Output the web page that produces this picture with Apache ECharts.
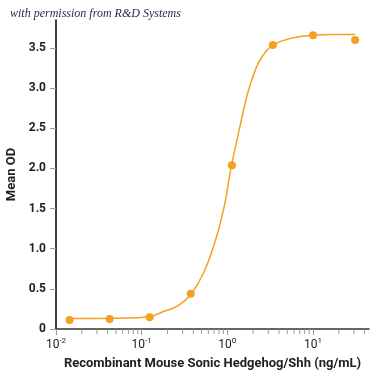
<!DOCTYPE html>
<html>
<head>
<meta charset="utf-8">
<script src="https://cdn.jsdelivr.net/npm/echarts@6/dist/echarts.min.js"></script>
<style>
html,body{margin:0;padding:0;background:#fff;}
#chart{width:375px;height:375px;}
</style>
</head>
<body>
<div id="chart"></div>
<script>
// Measured points (ng/mL, Mean OD)
const concentrations = [0.0144, 0.0423, 0.124, 0.374, 1.13, 3.40, 10.0, 31.0];
const meanOD = [0.112, 0.125, 0.146, 0.44, 2.04, 3.54, 3.66, 3.60];
// Fitted curve
const curveX = [0.0144, 0.0423, 0.124, 0.177, 0.255, 0.374, 0.546, 0.748, 0.935, 1.09, 1.374, 1.68, 1.92, 2.29, 2.87, 3.38, 4.11, 5.89, 10.1, 17.3, 31.0];
const curveY = [0.13, 0.133, 0.153, 0.215, 0.278, 0.43, 0.735, 1.15, 1.565, 1.98, 2.48, 2.89, 3.10, 3.31, 3.47, 3.535, 3.58, 3.63, 3.66, 3.67, 3.67];
// Axis ticks
const yTicks = [0, 0.5, 1, 1.5, 2, 2.5, 3, 3.5];
const yTickLabels = ['0', '0.5', '1.0', '1.5', '2.0', '2.5', '3.0', '3.5'];
const xMajor = [0.01, 0.1, 1, 10];
const xMajorExp = ['-2', '-1', '0', '1'];
const xMinor = [0.02, 0.03, 0.04, 0.05, 0.06, 0.07, 0.08, 0.09,
                0.2, 0.3, 0.4, 0.5, 0.6, 0.7, 0.8, 0.9,
                2, 3, 4, 5, 6, 7, 8, 9,
                20, 30, 40];

const orange = '#F4A020';
const font = 'Roboto, "Liberation Sans", sans-serif';

const chart = echarts.init(document.getElementById('chart'), null, {renderer: 'canvas'});
chart.setOption({
  animation: false,
  backgroundColor: '#fff',
  grid: {left: 56, right: 6, top: 20, bottom: 46, containLabel: false, outerBoundsMode: 'none'},
  graphic: [{
    type: 'text', left: 10, top: 8, z: 10,
    style: {text: 'with permission from R&D Systems', fontFamily: '"Liberation Serif", "DejaVu Serif", serif',
      fontStyle: 'italic', fontSize: 12, fill: '#1b2a4a'}
  }],
  xAxis: {
    type: 'log', logBase: 10, min: 0.01, max: 45,
    name: 'Recombinant Mouse Sonic Hedgehog/Shh (ng/mL)',
    nameLocation: 'middle', nameGap: 28,
    nameTextStyle: {fontFamily: font, fontWeight: 'bold', fontSize: 13, color: '#222'},
    axisLine: {show: true, lineStyle: {color: '#333', width: 1.5}},
    axisTick: {show: true, length: 6, customValues: xMajor, lineStyle: {color: '#999', width: 1}},
    splitLine: {show: false},
    minorTick: {show: false},
    axisLabel: {
      customValues: xMajor, margin: 8,
      formatter: function (v) {
        const e = Math.round(Math.log10(v));
        const i = xMajor.findIndex(m => Math.round(Math.log10(m)) === e);
        return '{b|10}{s|' + (i >= 0 ? xMajorExp[i] : e) + '}';
      },
      rich: {
        b: {fontFamily: font, fontSize: 12, color: '#222', verticalAlign: 'bottom'},
        s: {fontFamily: font, fontSize: 8, color: '#222', verticalAlign: 'top', padding: [0, 0, 6, 0]}
      }
    }
  },
  yAxis: {
    type: 'value', min: 0, max: 3.85, interval: 0.5,
    name: 'Mean OD', nameLocation: 'middle', nameGap: 38,
    nameTextStyle: {fontFamily: font, fontWeight: 'bold', fontSize: 13, color: '#222'},
    axisLine: {show: true, lineStyle: {color: '#000', width: 1.5}},
    axisTick: {show: true, length: 6, customValues: yTicks, lineStyle: {color: '#999', width: 1}},
    splitLine: {show: false},
    axisLabel: {
      customValues: yTicks, margin: 10,
      fontFamily: font, fontWeight: 'bold', fontSize: 12, color: '#222',
      formatter: function (v) {
        const i = yTicks.findIndex(t => Math.abs(t - v) < 1e-6);
        return i >= 0 ? yTickLabels[i] : '';
      }
    }
  },
  series: [
    {
      type: 'line', data: curveX.map((x, i) => [x, curveY[i]]),
      smooth: 0.3, symbol: 'none', lineStyle: {color: orange, width: 1.5}, z: 2, silent: true
    },
    {
      type: 'scatter', data: concentrations.map((x, i) => [x, meanOD[i]]),
      symbol: 'circle', symbolSize: 8, itemStyle: {color: orange, opacity: 1}, z: 3, silent: true
    },
    {
      type: 'custom', data: xMinor.map(v => [v, 0]), clip: false, silent: true, z: 1,
      renderItem: function (params, api) {
        const p = api.coord([api.value(0), 0]);
        return {type: 'line', shape: {x1: p[0], y1: p[1], x2: p[0], y2: p[1] + 5},
          style: {stroke: '#999', lineWidth: 1}};
      }
    }
  ]
});
</script>
</body>
</html>
